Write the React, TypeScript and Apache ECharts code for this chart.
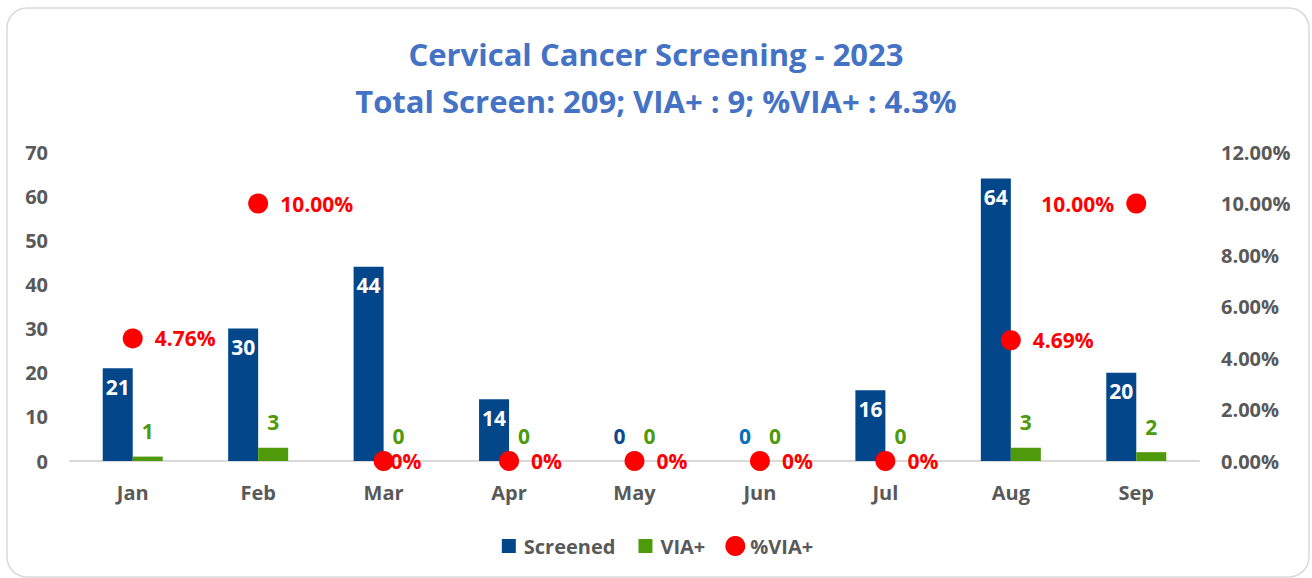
import React, { useEffect, useRef } from "react";
import * as echarts from "echarts";

const months = ["Jan", "Feb", "Mar", "Apr", "May", "Jun", "Jul", "Aug", "Sep"];
const screened = [21, 30, 44, 14, 0, 0, 16, 64, 20];
const viaPositive = [1, 3, 0, 0, 0, 0, 0, 3, 2];
const pctViaPositive = [4.76, 10.0, 0, 0, 0, 0, 0, 4.69, 10.0];
const pctLabels = ["4.76%", "10.00%", "0%", "0%", "0%", "0%", "0%", "4.69%", "10.00%"];
const leftMax = 70;
const leftInterval = 10;
const rightMax = 12;
const rightInterval = 2;

const titleText = "Cervical Cancer Screening - 2023";
const subtitleText = "Total Screen: 209; VIA+ : 9; %VIA+ : 4.3%";

const FONT = "'Open Sans', sans-serif";
const BLUE = "#03468A";
const GREEN = "#4E9A0B";
const RED = "#FF0000";
const AXIS_TEXT = "#595959";
const zeroLabelColors: Record<number, string> = { 4: "#0B4A8B", 5: "#0070C0" };

export default function App() {
  const ref = useRef<HTMLDivElement>(null);
  useEffect(() => {
    if (!ref.current) return;
    const chart = echarts.init(ref.current, undefined, { renderer: "svg" });
    const squareIcon = "path://M0,0L0,0M3,3L17,3L17,17L3,17ZM20,20L20,20";
    const dataLabelFont = {
      fontFamily: FONT,
      fontSize: 21,
      fontWeight: "bold",
      lineHeight: 21,
    };
    chart.setOption({
      animation: false,
      backgroundColor: "#ffffff",
      title: {
        text: titleText + "\n" + subtitleText,
        left: "center",
        top: 25,
        textStyle: {
          fontFamily: FONT,
          fontSize: 31,
          fontWeight: "bold",
          color: "#4472C4",
          lineHeight: 47,
        },
      },
      graphic: [
        {
          type: "rect",
          shape: { x: 7, y: 8, width: 1302, height: 569, r: 20 },
          style: { fill: "none", stroke: "#d9d9d9", lineWidth: 1.5 },
          z: -1,
          silent: true,
        },
      ],
      legend: {
        bottom: 17,
        left: "center",
        itemWidth: 20,
        itemHeight: 20,
        itemGap: 20,
        textStyle: { fontFamily: FONT, fontSize: 20, fontWeight: "bold", color: AXIS_TEXT },
        data: [
          { name: "Screened", icon: squareIcon },
          { name: "VIA+", icon: squareIcon },
          { name: "%VIA+", icon: "circle" },
        ],
      },
      grid: { left: 70, right: 113, top: 152, bottom: 117 },
      xAxis: {
        type: "category",
        data: months,
        axisLine: { lineStyle: { color: "#d9d9d9", width: 2 } },
        axisTick: { show: false },
        axisLabel: {
          fontFamily: FONT,
          fontSize: 20,
          fontWeight: "bold",
          color: AXIS_TEXT,
          margin: 21,
        },
      },
      yAxis: [
        {
          type: "value",
          min: 0,
          max: leftMax,
          interval: leftInterval,
          splitLine: { show: false },
          axisLine: { show: false },
          axisTick: { show: false },
          axisLabel: {
            fontFamily: FONT,
            fontSize: 20,
            fontWeight: "bold",
            color: AXIS_TEXT,
            margin: 22,
          },
        },
        {
          type: "value",
          min: 0,
          max: rightMax,
          interval: rightInterval,
          splitLine: { show: false },
          axisLine: { show: false },
          axisTick: { show: false },
          axisLabel: {
            fontFamily: FONT,
            fontSize: 20,
            fontWeight: "bold",
            color: AXIS_TEXT,
            margin: 22,
            formatter: (v: number) => v.toFixed(2) + "%",
          },
        },
      ],
      series: [
        {
          name: "Screened",
          type: "bar",
          barWidth: 30,
          barGap: "0%",
          itemStyle: { color: BLUE },
          label: {
            show: true,
            position: "insideTop",
            distance: 8,
            color: "#ffffff",
            ...dataLabelFont,
          },
          data: screened.map((v, i) =>
            v === 0
              ? {
                  value: v,
                  label: { position: "top", distance: 15, color: zeroLabelColors[i] || BLUE },
                }
              : v
          ),
        },
        {
          name: "VIA+",
          type: "bar",
          barWidth: 30,
          barGap: "0%",
          itemStyle: { color: GREEN },
          label: {
            show: true,
            position: "top",
            distance: 15,
            color: GREEN,
            ...dataLabelFont,
          },
          data: viaPositive,
        },
        {
          name: "%VIA+",
          type: "scatter",
          yAxisIndex: 1,
          symbol: "circle",
          symbolSize: 20,
          z: 5,
          itemStyle: { color: RED, opacity: 1 },
          label: {
            show: true,
            position: "right",
            distance: 12,
            color: RED,
            ...dataLabelFont,
            formatter: (p: any) => pctLabels[p.dataIndex],
          },
          data: pctViaPositive.map((v, i) => {
            if (i === 8) return { value: v, label: { position: "left", distance: 12 } };
            if (i === 2) return { value: v, label: { distance: -3 } };
            return v;
          }),
        },
      ],
    });
    return () => chart.dispose();
  }, []);
  return (
    <div
      ref={ref}
      style={{ position: "fixed", left: 0, top: 0, width: 1312, height: 578 }}
    />
  );
}
